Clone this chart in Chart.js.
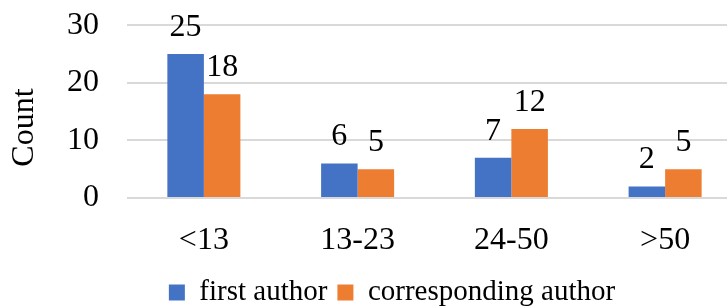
<!DOCTYPE html>
<html>
<head>
<meta charset="utf-8">
<script src="https://cdn.jsdelivr.net/npm/chart.js@4/dist/chart.umd.min.js"></script>
<style>
  html, body { margin: 0; padding: 0; background: #fff; overflow: hidden; }
  #wrap { width: 742px; height: 308px; }
</style>
</head>
<body>
<div id="wrap"><canvas id="countChart"></canvas></div>
<script>
  // data
  const groups = ['<13', '13-23', '24-50', '>50'];
  const firstAuthor = [25, 6, 7, 2];
  const correspondingAuthor = [18, 5, 12, 5];
  const yTicks = [0, 10, 20, 30];

  const serif = '"Liberation Serif", "Times New Roman", serif';

  // values drawn above each bar
  const barValues = {
    id: 'barValues',
    afterDatasetsDraw(chart) {
      const ctx = chart.ctx;
      ctx.save();
      ctx.font = '32px ' + serif;
      ctx.fillStyle = '#000';
      ctx.textAlign = 'center';
      ctx.textBaseline = 'alphabetic';
      chart.data.datasets.forEach((ds, i) => {
        chart.getDatasetMeta(i).data.forEach((bar, j) => {
          ctx.fillText(String(ds.data[j]), bar.x, bar.y - 18);
        });
      });
      ctx.restore();
    }
  };

  // nudge the legend to where the original one sits
  const legendNudge = {
    id: 'legendNudge',
    afterLayout(chart) {
      const lg = chart.legend;
      if (!lg) return;
      lg.left += 21; lg.right += 21;
      lg.top += 9; lg.bottom += 9;
    }
  };

  new Chart(document.getElementById('countChart'), {
    type: 'bar',
    data: {
      labels: groups,
      datasets: [{
        label: 'first author',
        data: firstAuthor,
        backgroundColor: '#4472C4'
      }, {
        label: 'corresponding author',
        data: correspondingAuthor,
        backgroundColor: '#ED7D31'
      }]
    },
    options: {
      responsive: true,
      maintainAspectRatio: false,
      animation: false,
      layout: { padding: 0 },
      datasets: {
        bar: { categoryPercentage: 0.475, barPercentage: 1 }
      },
      scales: {
        x: {
          afterFit(scale) { scale.height = 61; },
          grid: { display: false },
          border: { display: false },
          ticks: { color: '#000', font: { family: serif, size: 32 }, padding: 15 }
        },
        y: {
          min: 0,
          max: 30,
          afterBuildTicks(scale) { scale.ticks = yTicks.map(v => ({ value: v })); },
          afterFit(scale) { scale.width = 127; },
          grid: { color: '#d9d9d9', lineWidth: 2, drawTicks: true, tickLength: 22, tickColor: 'rgba(0,0,0,0)' },
          border: { display: false },
          ticks: { color: '#000', font: { family: serif, size: 32 }, padding: 6 },
          title: {
            display: true,
            // trailing spaces push the word a little lower, as in the original
            text: 'Count\u00a0\u00a0\u00a0\u00a0',
            color: '#000',
            font: { family: serif, size: 32 },
            padding: { top: 5, bottom: 0 }
          }
        }
      },
      plugins: {
        legend: {
          position: 'bottom',
          labels: {
            color: '#000',
            font: { family: serif, size: 29 },
            boxWidth: 16,
            boxHeight: 16,
            padding: 10
          }
        },
        tooltip: { enabled: false }
      }
    },
    plugins: [barValues, legendNudge]
  });
</script>
</body>
</html>
